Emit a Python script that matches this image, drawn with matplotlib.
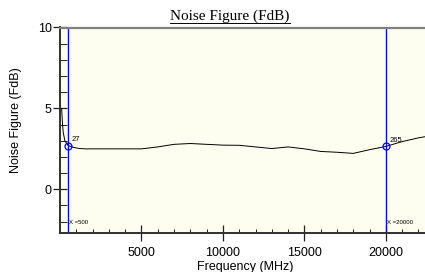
import numpy as np
import matplotlib
matplotlib.use("Agg")
import matplotlib.pyplot as plt
from matplotlib.ticker import MultipleLocator
from matplotlib.lines import Line2D

# noise figure trace (MHz, dB)
freq = [100, 150, 200, 300, 500, 800, 1200, 1600, 3000, 5000, 6000, 7000, 8000,
        9000, 10000, 11000, 12000, 13000, 14000, 15000, 16000, 17000, 18000,
        19000, 20000, 21000, 22000, 22400]
nf = [5.0, 4.1, 3.5, 3.0, 2.7, 2.6, 2.52, 2.5, 2.5, 2.5, 2.62, 2.78, 2.83,
      2.78, 2.73, 2.72, 2.62, 2.52, 2.62, 2.5, 2.34, 2.29, 2.22,
      2.45, 2.65, 2.95, 3.18, 3.25]

marker_x = [500, 20000]
marker_y = [2.7, 2.65]
marker_lbl = ["27", "265"]

plt.rcParams['font.family'] = ['Liberation Sans', 'DejaVu Sans']

fig = plt.figure(figsize=(4.25, 2.72), dpi=100)
ax = fig.add_axes([60/425, 1-233/272, 1-60/425, (233-27.5)/272])
ax.set_facecolor('#fefef0')

ax.plot(freq, nf, color='black', lw=0.7)
for xm, ym, lb in zip(marker_x, marker_y, marker_lbl):
    ax.axvline(xm, color='#0000ff', lw=1.0)
    ax.plot([xm], [ym], 'o', mfc='none', mec='#0000ff', ms=5, mew=0.9)
    ax.text(xm + 230, ym + 0.15, lb, fontsize=5.5, va='bottom', ha='left')
    ax.text(xm + 40, -2.05, "X =%d" % xm, fontsize=4.3, va='center', ha='left')

ax.set_xlim(0, 22400)
ax.set_ylim(-2.7, 10)
ax.set_xticks([5000, 10000, 15000, 20000])
ax.xaxis.set_minor_locator(MultipleLocator(1000))
ax.set_yticks([0, 5, 10])
ax.yaxis.set_minor_locator(MultipleLocator(1))
ax.tick_params(which='both', labelsize=9, color='#202020')
ax.tick_params(axis='x', which='major', direction='inout', length=12, width=0.9, pad=4)
ax.tick_params(axis='y', which='major', direction='inout', length=10, width=0.9, pad=1)
ax.tick_params(axis='x', which='minor', direction='in', length=3.1, width=0.7)
ax.tick_params(axis='y', which='minor', direction='in', length=4.8, width=0.7)

ax.spines['right'].set_visible(False)
ax.spines['top'].set_color('#808080')
ax.spines['top'].set_linewidth(1.6)
ax.spines['left'].set_color('#303030')
ax.spines['left'].set_linewidth(1.4)
ax.spines['bottom'].set_color('#303030')
ax.spines['bottom'].set_linewidth(1.4)

ax.set_xlabel('Frequency (MHz)', fontsize=9)
ax.set_ylabel('Noise Figure (FdB)', fontsize=9)
ax.yaxis.set_label_coords(-0.105, 0.55)
ax.xaxis.set_label_coords(0.507, -0.135)

title = fig.text(230/425, 1-20/272, 'Noise Figure (FdB)', family='Liberation Serif',
                 fontsize=11, ha='center', va='baseline')
fig.canvas.draw()
bb = title.get_window_extent().transformed(fig.transFigure.inverted())
uy = 1 - 22.7/272
fig.add_artist(Line2D([bb.x0, bb.x1], [uy, uy], transform=fig.transFigure,
                      color='black', lw=0.7))

fig.savefig('out.png', dpi=100)
